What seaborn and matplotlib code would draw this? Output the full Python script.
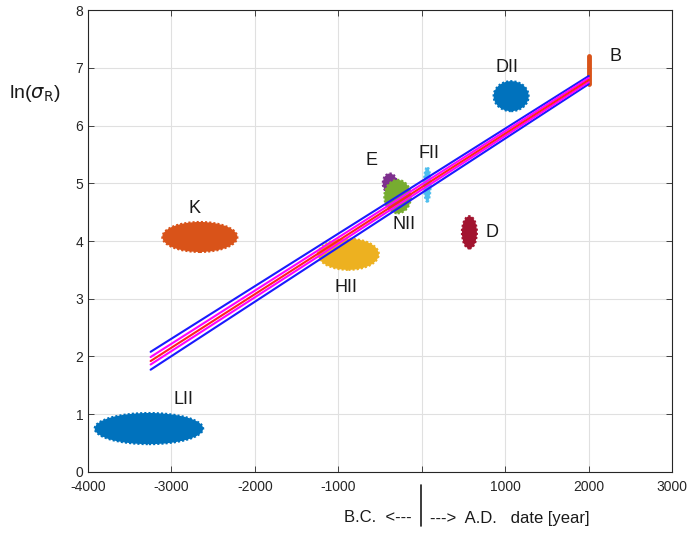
import numpy as np
import pandas as pd
import matplotlib
matplotlib.use("Agg")
import matplotlib.pyplot as plt
from matplotlib.patches import Ellipse
from matplotlib.lines import Line2D
import seaborn as sns

# ---- data ----
clusters = ["LII", "K", "HII", "E", "NII", "FII", "D", "DII"]
cx = [-3270, -2660, -880, -383, -290, 65, 570, 1070]
cy = [0.75, 4.07, 3.77, 5.00, 4.77, 4.98, 4.15, 6.51]
half_w = [650, 450, 365, 85, 160, 40, 90, 210]
half_h = [0.27, 0.26, 0.27, 0.17, 0.29, 0.30, 0.28, 0.26]
colors = ["#0072BD", "#D95319", "#EDB120", "#7E2F8E", "#77AC30", "#4DBEEE", "#A2142F", "#0072BD"]

b_x = 2000
b_ymin, b_ymax = 6.72, 7.20

label_text = ["LII", "K", "HII", "E", "NII", "FII", "D", "DII", "B"]
label_x = [-2850, -2720, -910, -600, -215, 85, 840, 1020, 2320]
label_y = [1.25, 4.57, 3.19, 5.40, 4.28, 5.52, 4.14, 7.00, 7.20]

fit_x = [-3250, 2000]
fit_center = [1.92, 6.79]
fit_inner_lo = [1.86, 6.755]
fit_inner_hi = [1.99, 6.825]
fit_outer_lo = [1.77, 6.72]
fit_outer_hi = [2.08, 6.86]

xticks = [-4000, -3000, -2000, -1000, 0, 1000, 2000, 3000]
xtick_labels = ["-4000", "-3000", "-2000", "-1000", "", "1000", "2000", "3000"]
yticks = [0, 1, 2, 3, 4, 5, 6, 7, 8]

# ---- plot ----
sns.set_style("whitegrid")
plt.rcParams['font.family'] = ['Liberation Sans', 'DejaVu Sans']
fig = plt.figure(figsize=(6.93, 5.35), dpi=100)
ax = fig.add_axes([0.127, 0.118, 0.843, 0.863])

for x, y, w, h, c in zip(cx, cy, half_w, half_h, colors):
    ax.add_patch(Ellipse((x, y), 2 * w, 2 * h, facecolor=c, edgecolor=c, lw=1.5,
                         linestyle=(0, (1, 1)), zorder=2))

ax.plot([b_x, b_x], [b_ymin, b_ymax], color="#D95319", lw=3.5, solid_capstyle="round", zorder=2)

df = pd.DataFrame({
    "x": fit_x * 5,
    "y": fit_outer_lo + fit_outer_hi + fit_inner_lo + fit_inner_hi + fit_center,
    "line": ["olo"] * 2 + ["ohi"] * 2 + ["ilo"] * 2 + ["ihi"] * 2 + ["c"] * 2,
})
pal = {"olo": "#1a1aff", "ohi": "#1a1aff", "ilo": "#ff00ff", "ihi": "#ff00ff", "c": "#ff2020"}
sns.lineplot(data=df, x="x", y="y", hue="line", palette=pal, legend=False, ax=ax,
             lw=1.5, zorder=3, estimator=None, sort=False)

for t, x, y in zip(label_text, label_x, label_y):
    ax.text(x, y, t, fontsize=13, ha="center", va="center", color="#1a1a1a", zorder=4)

ax.set_xlim(-4000, 3000)
ax.set_ylim(0, 8)
ax.set_xticks(xticks)
ax.set_xticklabels(xtick_labels)
ax.set_yticks(yticks)
ax.set_xlabel("")
ax.set_ylabel("")
ax.grid(True, color="#e0e0e0", lw=0.8)
for s in ax.spines.values():
    s.set_color("#262626")
    s.set_linewidth(0.8)
ax.tick_params(direction="in", length=4, width=0.6, colors="#262626", labelsize=10,
               top=True, right=True, bottom=True, left=True)
ax.tick_params(axis="x", pad=6)

fig.text(35 / 693, 1 - 93 / 535, r"ln($\sigma_{\rm R}$)", fontsize=14, ha="center", va="center",
         color="#1a1a1a")
fig.text(412 / 693, 1 - 518 / 535, "B.C.  <---", fontsize=12, ha="right", va="center", color="#1a1a1a")
fig.text(430 / 693, 1 - 518 / 535, "--->  A.D.   date [year]", fontsize=12, ha="left", va="center",
         color="#1a1a1a")
fig.add_artist(Line2D([421 / 693, 421 / 693], [1 - 485 / 535, 1 - 526 / 535], color="#1a1a1a", lw=1.2))

fig.savefig("out.png", dpi=100)
